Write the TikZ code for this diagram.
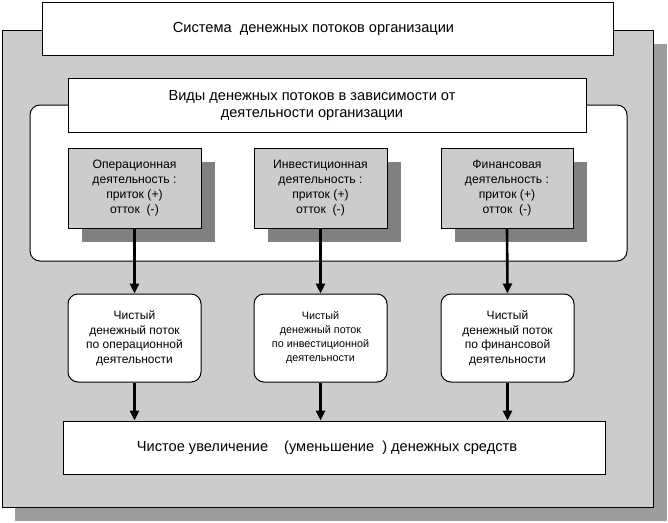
\documentclass[tikz,border=0pt]{standalone}
\usepackage{fontspec}
\setmainfont{Liberation Sans}
\usetikzlibrary{arrows.meta,positioning}
\definecolor{panelgray}{HTML}{CCCCCC}
\definecolor{bigshadow}{HTML}{9C9C9C}
\definecolor{boxshadow}{HTML}{808080}
\tikzset{
  plainbox/.style={draw=black,line width=1pt,fill=white,inner sep=0pt,align=center},
  actbox/.style={draw=black,line width=1pt,fill=panelgray,inner sep=0pt,align=center,
    minimum width=133pt,minimum height=80pt,font=\fontsize{12.2}{15}\selectfont},
  resbox/.style={draw=black,line width=1pt,fill=white,rounded corners=10pt,inner sep=0pt,align=center,
    minimum width=133pt,minimum height=88pt,font=\fontsize{12}{14.5}\selectfont},
  flow/.style={line width=2.6pt,-{Triangle[width=9pt,length=10pt]}},
}
\begin{document}
\begin{tikzpicture}[x=1pt,y=-1pt]
\useasboundingbox (0,0) rectangle (668,522);
% outer panel with shadow
\fill[bigshadow] (15,44) rectangle (667,521);
\node[draw=black,line width=1pt,fill=panelgray,inner sep=0pt,minimum width=650.5pt,minimum height=477pt] (panel) at (327.75,268.5) {};
% top title
\node[plainbox,minimum width=571pt,minimum height=53pt,font=\fontsize{14.6}{17}\selectfont] (title) at (327.5,29) {Система\ \ денежных потоков организации\hspace*{28pt}};
% rounded container
\node[draw=black,line width=1pt,fill=white,rounded corners=10pt,inner sep=0pt,minimum width=597pt,minimum height=156pt] (cont) at (328.5,183) {};
% kinds box
\node[plainbox,minimum width=518pt,minimum height=54pt,font=\fontsize{14.6}{17.5}\selectfont] (kinds) at (327,105.5) {Виды денежных потоков в зависимости от\hspace*{30pt}\\деятельности организации\hspace*{30pt}};
% activity shadows
\fill[boxshadow] (82,162) rectangle (215,242);
\fill[boxshadow] (268,162) rectangle (401,242);
\fill[boxshadow] (455,162) rectangle (587,242);
% activity boxes
\node[actbox] (op) at (134.5,188) {Операционная\\деятельность :\\приток (+)\\отток\ \ (-)};
\node[actbox] (inv) at (320.5,188) {Инвестиционная\\деятельность :\\приток (+)\\отток\ \ (-)};
\node[actbox,minimum width=132pt] (fin) at (507,188) {Финансовая\\деятельность :\\приток (+)\\отток\ \ (-)};
% result boxes
\node[resbox] (rop) at (134.5,338) {Чистый\\денежный поток\\по операционной\\деятельности};
\node[resbox,font=\fontsize{10.8}{14}\selectfont] (rinv) at (320.5,338) {Чистый\\денежный поток\\по инвестиционной\\деятельности};
\node[resbox] (rfin) at (507.5,338) {Чистый\\денежный поток\\по финансовой\\деятельности};
% bottom box
\node[plainbox,minimum width=542pt,minimum height=53pt,font=\fontsize{14.6}{17}\selectfont] (net) at (334,447.5) {Чистое увеличение\hspace*{16pt}(уменьшение\ \ ) денежных средств\hspace*{14pt}};
% arrows
\draw[flow] (op.south) -- (rop.north);
\draw[flow] (inv.south) -- (rinv.north);
\draw[flow] (fin.south) -- (rfin.north);
\draw[flow] (rop.south) -- (rop.south |- net.north);
\draw[flow] (rinv.south) -- (rinv.south |- net.north);
\draw[flow] (rfin.south) -- (rfin.south |- net.north);
\end{tikzpicture}
\end{document}
